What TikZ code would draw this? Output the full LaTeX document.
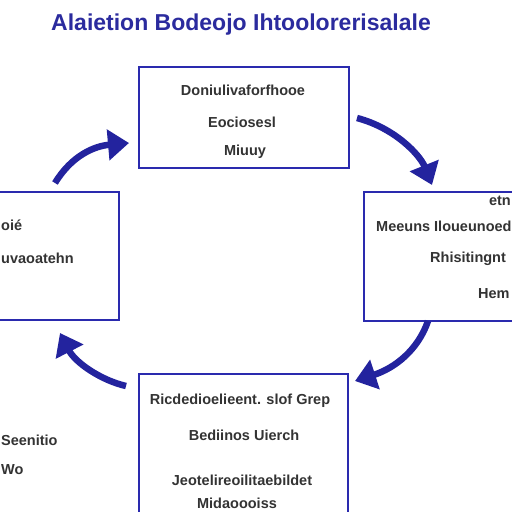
\documentclass[tikz,border=0pt]{standalone}
\usepackage{fontspec}
\setmainfont{Liberation Sans}
\usetikzlibrary{arrows.meta}
\definecolor{boxblue}{HTML}{2A2AAE}
\definecolor{arrblue}{HTML}{23239E}
\definecolor{titleblue}{HTML}{2B2B9E}
\definecolor{txt}{HTML}{333333}
\tikzset{
  panel/.style={draw=boxblue, line width=2pt, fill=white, inner sep=0pt},
  lbl/.style={text=txt, font=\bfseries\fontsize{14.5}{17}\selectfont, inner sep=0pt},
  arr/.style={draw=arrblue, line width=6.5pt, -{Triangle[length=21pt,width=30pt]}},
}
\begin{document}
\begin{tikzpicture}[x=1pt,y=-1pt]
\useasboundingbox (0,0) rectangle (512,512);
\fill[white] (0,0) rectangle (512,512);
\clip (0,0) rectangle (512,512);
\node[text=titleblue, font=\bfseries\fontsize{23}{27}\selectfont, inner sep=0pt] (title) at (241,25) {Alaietion Bodeojo Ihtoolorerisalale};
% boxes
\node[panel, minimum width=210pt, minimum height=101pt] (top) at (244,117.5) {};
\node[panel, minimum width=210pt, minimum height=128pt] (left) at (14,256) {};
\node[panel, minimum width=210pt, minimum height=129pt] (right) at (469,256.5) {};
\node[panel, minimum width=209pt, minimum height=196pt] (bottom) at (243.5,472) {};
% top texts
\node[lbl] (t1) at (243,90) {Doniulivaforfhooe};
\node[lbl] (t2) at (242,122) {Eociosesl};
\node[lbl] (t3) at (245,152) {Miuuy};
% left texts
\node[lbl, anchor=west] (l1) at (1,225) {oié};
\node[lbl, anchor=west] (l2) at (1,258) {uvaoatehn};
% right texts
\node[lbl, anchor=east] (r1) at (511,201) {etn};
\node[lbl, anchor=west] (r2) at (376,226) {Meeuns Iloueunoed};
\node[lbl, anchor=west] (r3) at (430,259) {Rhisitingnt};
\node[lbl, anchor=west] (r4) at (478,294) {Hem};
% bottom texts
\node[lbl] (b1) at (240,401) {Ricdedioelieent. slof Grep};
\node[lbl] (b2) at (244,435) {Bediinos Uierch};
\node[lbl] (b3) at (242,480) {Jeotelireoilitaebildet};
\node[lbl] (b4) at (237,503) {Midaoooiss};
% outside texts
\node[lbl, anchor=west] (o1) at (1,440) {Seenitio};
\node[lbl, anchor=west] (o2) at (1,470) {Wo};
% arrows
\coordinate (a1s) at (55,183);
\coordinate (a1e) at (129,143);
\coordinate (a2s) at (357,118);
\coordinate (a2e) at (432,185);
\coordinate (a3s) at (428,321);
\coordinate (a3e) at (355,381);
\coordinate (a4s) at (126,386);
\coordinate (a4e) at (60,333);
\draw[arr] (a1s) .. controls (72,155) and (95,146) .. (a1e);
\draw[arr] (a2s) .. controls (395,128) and (420,155) .. (a2e);
\draw[arr] (a3s) .. controls (418,350) and (395,368) .. (a3e);
\draw[arr] (a4s) .. controls (100,380) and (75,362) .. (a4e);
\end{tikzpicture}
\end{document}
